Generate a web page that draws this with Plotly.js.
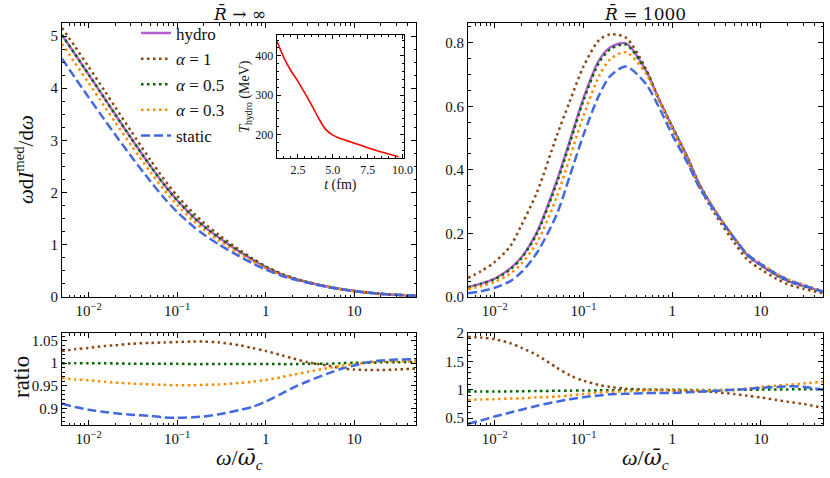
<!DOCTYPE html>
<html>
<head>
<meta charset="utf-8">
<script src="https://cdn.plot.ly/plotly-3.0.1.min.js"></script>
<style>
  html, body { margin: 0; padding: 0; background: #fff; }
  #plot { width: 830px; height: 478px; }
</style>
</head>
<body>
<div id="plot"></div>
<script>
// omega / omega_c grid
const omega = [0.005, 0.007, 0.01, 0.015, 0.02, 0.03, 0.05, 0.07, 0.1, 0.15, 0.2, 0.3,
               0.5, 0.7, 1, 1.5, 2, 3, 5, 7, 10, 15, 20, 30, 50];

// left: R -> infinity
const hydroInf   = [5.02, 4.655, 4.264, 3.815, 3.496, 3.052, 2.508, 2.172, 1.854, 1.546, 1.358, 1.129,
                    0.874, 0.721, 0.574, 0.44, 0.365, 0.282, 0.198, 0.154, 0.115, 0.08, 0.061, 0.042, 0.024];
const alpha1Inf  = [5.156, 4.799, 4.409, 3.96, 3.636, 3.183, 2.621, 2.272, 1.941, 1.62, 1.423, 1.181,
                    0.909, 0.746, 0.589, 0.448, 0.369, 0.283, 0.197, 0.152, 0.113, 0.079, 0.06, 0.041, 0.024];
const alpha05Inf = [5.02, 4.655, 4.264, 3.815, 3.494, 3.049, 2.505, 2.17, 1.852, 1.543, 1.355, 1.127,
                    0.872, 0.72, 0.573, 0.439, 0.364, 0.282, 0.198, 0.154, 0.115, 0.08, 0.061, 0.042, 0.024];
const alpha03Inf = [4.854, 4.487, 4.102, 3.659, 3.346, 2.915, 2.39, 2.068, 1.763, 1.47, 1.293, 1.076,
                    0.836, 0.691, 0.553, 0.426, 0.356, 0.277, 0.196, 0.153, 0.115, 0.08, 0.061, 0.042, 0.024];
const staticInf  = [4.568, 4.203, 3.825, 3.403, 3.108, 2.704, 2.215, 1.911, 1.63, 1.36, 1.198, 1.001,
                    0.783, 0.651, 0.525, 0.41, 0.345, 0.271, 0.193, 0.152, 0.114, 0.08, 0.061, 0.042, 0.024];

// right: R = 1000
const hydroR   = [0.031, 0.042, 0.058, 0.09, 0.125, 0.205, 0.365, 0.49, 0.625, 0.745, 0.785, 0.798,
                  0.715, 0.625, 0.536, 0.437, 0.358, 0.274, 0.185, 0.132, 0.1, 0.069, 0.051, 0.035, 0.017];
const alpha1R  = [0.06, 0.081, 0.11, 0.16, 0.226, 0.33, 0.507, 0.615, 0.725, 0.808, 0.826, 0.816,
                  0.72, 0.625, 0.53, 0.429, 0.349, 0.263, 0.171, 0.118, 0.087, 0.057, 0.04, 0.026, 0.012];
const alpha05R = [0.03, 0.041, 0.056, 0.087, 0.122, 0.2, 0.358, 0.483, 0.618, 0.738, 0.779, 0.794,
                  0.714, 0.625, 0.536, 0.436, 0.357, 0.273, 0.185, 0.132, 0.1, 0.069, 0.051, 0.035, 0.017];
const alpha03R = [0.025, 0.034, 0.047, 0.074, 0.105, 0.172, 0.315, 0.438, 0.57, 0.695, 0.748, 0.77,
                  0.705, 0.622, 0.531, 0.43, 0.353, 0.271, 0.185, 0.135, 0.105, 0.074, 0.056, 0.039, 0.019];
const staticR  = [0.012, 0.018, 0.029, 0.05, 0.078, 0.14, 0.26, 0.38, 0.51, 0.635, 0.695, 0.725,
                  0.672, 0.6, 0.51, 0.42, 0.347, 0.27, 0.185, 0.135, 0.103, 0.072, 0.054, 0.037, 0.017];

// ratios to hydro
const ratioA1Inf  = [1.027, 1.031, 1.034, 1.038, 1.04, 1.043, 1.045, 1.046, 1.047, 1.048, 1.048, 1.046,
                     1.04, 1.034, 1.027, 1.018, 1.011, 1.002, 0.995, 0.989, 0.986, 0.985, 0.985, 0.986, 0.988];
const ratioA05Inf = [1.0, 1.0, 1.0, 1.0, 0.9995, 0.999, 0.999, 0.999, 0.999, 0.998, 0.998, 0.998,
                     0.998, 0.998, 0.998, 0.998, 0.998, 0.999, 0.999, 1.0, 1.001, 1.001, 1.002, 1.002, 1.003];
const ratioA03Inf = [0.967, 0.964, 0.962, 0.959, 0.957, 0.955, 0.953, 0.952, 0.951, 0.951, 0.952, 0.953,
                     0.956, 0.959, 0.963, 0.969, 0.974, 0.981, 0.989, 0.994, 0.998, 1.002, 1.003, 1.004, 1.004];
const ratioStInf  = [0.91, 0.903, 0.897, 0.892, 0.889, 0.886, 0.883, 0.88, 0.879, 0.88, 0.882, 0.887,
                     0.896, 0.903, 0.915, 0.932, 0.945, 0.96, 0.977, 0.987, 0.995, 1.003, 1.006, 1.008, 1.009];

const ratioA1R  = [1.93, 1.92, 1.89, 1.82, 1.74, 1.61, 1.39, 1.255, 1.16, 1.085, 1.05, 1.02,
                   1.005, 0.998, 0.99, 0.982, 0.975, 0.96, 0.925, 0.895, 0.865, 0.82, 0.79, 0.75, 0.68];
const ratioA05R = [0.97, 0.97, 0.97, 0.972, 0.975, 0.978, 0.982, 0.985, 0.988, 0.99, 0.992, 0.995,
                   0.998, 1.0, 1.0, 0.998, 0.997, 0.996, 0.998, 1.0, 1.003, 1.005, 1.007, 1.008, 1.008];
const ratioA03R = [0.82, 0.83, 0.835, 0.845, 0.85, 0.865, 0.88, 0.9, 0.925, 0.95, 0.965, 0.975,
                   0.99, 0.99, 0.99, 0.985, 0.985, 0.99, 1.0, 1.02, 1.05, 1.07, 1.09, 1.11, 1.14];
const ratioStR  = [0.4, 0.46, 0.53, 0.6, 0.65, 0.72, 0.79, 0.835, 0.87, 0.9, 0.92, 0.93,
                   0.94, 0.943, 0.945, 0.955, 0.965, 0.98, 1.0, 1.015, 1.035, 1.05, 1.06, 1.055, 1.0];

// inset: hydro temperature
const tHydro = [1.0, 1.5, 2.0, 2.5, 3.0, 3.5, 4.0, 4.5, 5.0, 5.5, 6.0, 7.0, 8.0, 9.0, 9.7];
const THydro = [437, 395, 362, 335, 305, 273, 240, 212, 198, 190, 184, 172, 160, 150, 143];

const seriesNames = ['hydro', '<i>α</i> = 1', '<i>α</i> = 0.5', '<i>α</i> = 0.3', 'static'];
const xTickVals = [0.01, 0.1, 1, 10];
const xTickText = ['10<sup>−2</sup>', '10<sup>−1</sup>', '1', '10'];

const FONT = 'Liberation Serif, DejaVu Serif, serif';
const MATH = 'DejaVu Serif, serif';

const styles = [
  {color: '#b35fd0', width: 2.5, dash: 'solid'},
  {color: '#8b4513', width: 2.5, dash: '2.5px,3.5px'},
  {color: '#006400', width: 2.5, dash: '2.5px,3.5px'},
  {color: '#ff8c00', width: 2.5, dash: '2.5px,3.5px'},
  {color: '#4169e1', width: 2.5, dash: '9px,4px'}
];

function mk(x, y, i, xa, ya, legend) {
  return {
    x: x, y: y, name: seriesNames[i],
    xaxis: xa, yaxis: ya,
    mode: 'lines', type: 'scatter',
    line: {color: styles[i].color, width: styles[i].width, dash: styles[i].dash, shape: 'spline', smoothing: 0.8},
    showlegend: legend, legendgroup: 'g' + i,
    hoverinfo: 'skip'
  };
}

let traces = [];
const topInf = [hydroInf, alpha1Inf, alpha05Inf, alpha03Inf, staticInf];
const topR = [hydroR, alpha1R, alpha05R, alpha03R, staticR];
const botInf = [null, ratioA1Inf, ratioA05Inf, ratioA03Inf, ratioStInf];
const botR = [null, ratioA1R, ratioA05R, ratioA03R, ratioStR];

for (let i = 0; i < 5; i++) traces.push(mk(omega, topInf[i], i, 'x', 'y', true));
for (let i = 0; i < 5; i++) traces.push(mk(omega, topR[i], i, 'x2', 'y2', false));
for (let i = 1; i < 5; i++) traces.push(mk(omega, botInf[i], i, 'x3', 'y3', false));
for (let i = 1; i < 5; i++) traces.push(mk(omega, botR[i], i, 'x4', 'y4', false));

traces.push({
  x: tHydro, y: THydro, xaxis: 'x5', yaxis: 'y5',
  mode: 'lines', type: 'scatter', showlegend: false, hoverinfo: 'skip',
  line: {color: '#ff0000', width: 1.6, shape: 'spline'}
});

function logMinor() {
  let v = [];
  for (let e = -3; e <= 2; e++) for (let d = 2; d <= 9; d++) v.push(d * Math.pow(10, e));
  return v;
}

function xLog(domain, anchor) {
  return {
    type: 'log', domain: domain, anchor: anchor,
    range: [Math.log10(0.005), Math.log10(50)],
    tickmode: 'array', tickvals: xTickVals, ticktext: xTickText,
    ticks: 'inside', ticklen: 5, tickcolor: '#000', tickwidth: 1,
    minor: {ticks: 'inside', ticklen: 2.5, tickcolor: '#000', tickmode: 'array', tickvals: logMinor()},
    showline: true, linecolor: '#000', linewidth: 1, mirror: 'allticks',
    showgrid: false, zeroline: false,
    tickfont: {family: FONT, size: 15, color: '#111'}
  };
}

function yLin(domain, anchor, range, vals, text, minorDt) {
  return {
    domain: domain, anchor: anchor, range: range,
    tickmode: 'array', tickvals: vals, ticktext: text,
    ticks: 'inside', ticklen: 5, tickcolor: '#000', tickwidth: 1,
    minor: {ticks: 'inside', ticklen: 2.5, tickcolor: '#000', dtick: minorDt},
    showline: true, linecolor: '#000', linewidth: 1, mirror: 'allticks',
    showgrid: false, zeroline: false,
    tickfont: {family: FONT, size: 15, color: '#111'}
  };
}

const W = 830, H = 478;
const dxL = [62 / W, 416 / W], dxR = [468 / W, 823 / W];
const dyT = [(H - 297) / H, (H - 23) / H], dyB = [(H - 425) / H, (H - 333) / H];

const omegaBar = '<i>ω</i>/<span style="font-family:DejaVu Serif"><i>ω̄</i></span><sub><i>c</i></sub>';

function label(text, x, y, size, angle, family) {
  return {text: text, xref: 'paper', yref: 'paper', x: x / W, y: (H - y) / H,
          xanchor: 'center', yanchor: 'middle', textangle: angle || 0, showarrow: false,
          font: {family: family || FONT, size: size, color: '#111'}};
}

const layout = {
  width: W, height: H,
  margin: {l: 0, r: 0, t: 0, b: 0},
  paper_bgcolor: '#fff', plot_bgcolor: 'rgba(0,0,0,0)',
  font: {family: FONT, color: '#111'},
  xaxis: xLog(dxL, 'y'),
  xaxis2: xLog(dxR, 'y2'),
  xaxis3: xLog(dxL, 'y3'),
  xaxis4: xLog(dxR, 'y4'),
  yaxis: yLin(dyT, 'x', [0, 5.25], [0, 1, 2, 3, 4, 5], ['0', '1', '2', '3', '4', '5'], 0.25),
  yaxis2: yLin(dyT, 'x2', [0, 0.862], [0, 0.2, 0.4, 0.6, 0.8], ['0.0', '0.2', '0.4', '0.6', '0.8'], 0.05),
  yaxis3: yLin(dyB, 'x3', [0.863, 1.067], [0.9, 0.95, 1, 1.05], ['0.9', '0.95', '1', '1.05'], 0.01),
  yaxis4: yLin(dyB, 'x4', [0.38, 2.0], [0.5, 1, 1.5, 2], ['0.5', '1', '1.5', '2'], 0.1),
  xaxis5: {
    domain: [276.7 / W, 404 / W], anchor: 'y5', range: [0.98, 10.1],
    tickmode: 'array', tickvals: [2.5, 5, 7.5, 10], ticktext: ['2.5', '5.0', '7.5', '10.0'],
    ticks: 'inside', ticklen: 4, tickcolor: '#000',
    minor: {ticks: 'inside', ticklen: 2, tickcolor: '#000', dtick: 0.5},
    showline: true, linecolor: '#000', linewidth: 1, mirror: 'allticks',
    showgrid: false, zeroline: false,
    tickfont: {family: FONT, size: 12, color: '#111'},
    title: {text: '<i>t</i> (fm)', font: {family: FONT, size: 14}, standoff: 2}
  },
  yaxis5: {
    domain: [(H - 158.3) / H, (H - 35) / H], anchor: 'x5', range: [139, 453],
    tickmode: 'array', tickvals: [200, 300, 400],
    ticks: 'inside', ticklen: 4, tickcolor: '#000',
    minor: {ticks: 'inside', ticklen: 2, tickcolor: '#000', dtick: 20},
    showline: true, linecolor: '#000', linewidth: 1, mirror: 'allticks',
    showgrid: false, zeroline: false,
    tickfont: {family: FONT, size: 12, color: '#111'},
    title: {text: '<i>T</i><sub>hydro</sub> (MeV)', font: {family: FONT, size: 14}, standoff: 2}
  },
  legend: {
    x: 136 / W, y: (H - 15.5) / H, xanchor: 'left', yanchor: 'top',
    bgcolor: 'rgba(255,255,255,0)', borderwidth: 0,
    traceorder: 'grouped', tracegroupgap: 0.5,
    font: {family: FONT, size: 17, color: '#111'},
    itemwidth: 30
  },
  annotations: [
    label('<i>R̄</i> → ∞', 239, 13, 17, 0, MATH),
    label('<i>R̄</i> = 1000', 645, 13, 17, 0, MATH),
    label('<i>ω</i>d<i>I</i><sup>med</sup>/d<i>ω</i>', 24, 160, 21, -90),
    label('ratio', 21, 377, 23, -90),
    label(omegaBar, 239, 459, 22),
    label(omegaBar, 645, 459, 22)
  ]
};

Plotly.newPlot('plot', traces, layout, {displayModeBar: false, staticPlot: true});
</script>
</body>
</html>
